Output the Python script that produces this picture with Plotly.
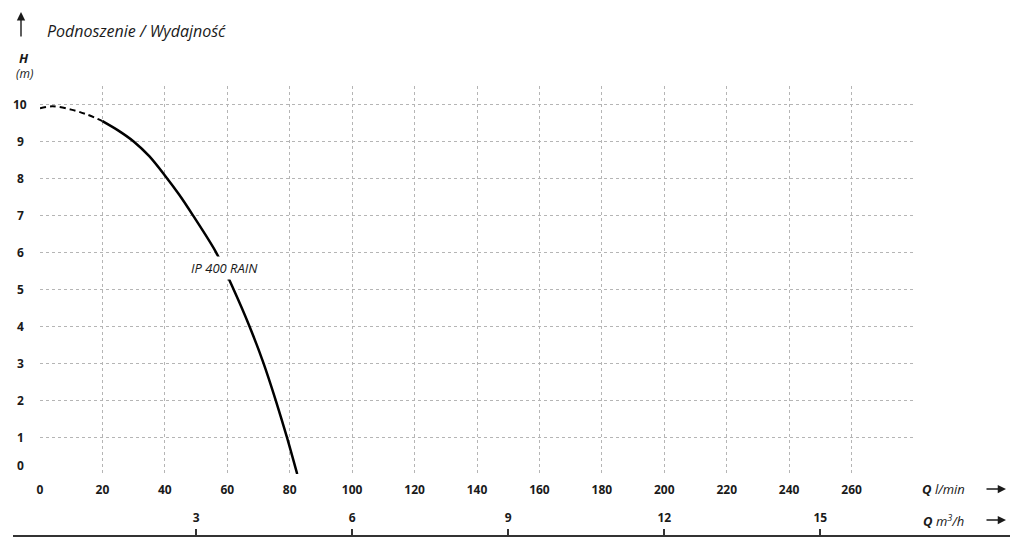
import plotly.graph_objects as go

# ---- data ----
q_dashed = [0, 4, 10, 15, 20]
h_dashed = [9.9, 9.95, 9.86, 9.73, 9.55]
q_solid = [20, 25, 30, 35, 40, 44.5, 49.0, 56.4, 62.0, 67.1, 71.6, 75.5, 79.1, 82.4]
h_solid = [9.55, 9.3, 9.0, 8.6, 8.08, 7.57, 7.0, 6.0, 5.0, 4.0, 3.0, 2.0, 1.0, 0.0]
curve_name = "IP 400 RAIN"

x_ticks = [0, 20, 40, 60, 80, 100, 120, 140, 160, 180, 200, 220, 240, 260, 280]
x_ticktext = ["0", "20", "40", "60", "80", "100", "120", "140", "160", "180", "200", "220", "240", "260", ""]
y_ticks = [0, 1, 2, 3, 4, 5, 6, 7, 8, 9, 10]
m3h_ticks = [3, 6, 9, 12, 15]

# page has an 8px body margin: figure origin sits at page (8, 8)
OFF = 8
W, H = 1024 - OFF, 548 - OFF
ML = 40 - OFF
MT = 86 - OFF
MR = W - (914 - OFF)
MB = 8
PLOT_BOTTOM = 474 - OFF
area_h = H - MT - MB
area_w = W - ML - MR


def px(xp):
    return (xp - OFF - ML) / area_w


def py(yp):
    return (H - MB - (yp - OFF)) / area_h


FONT = "Open Sans"
TXT = "#1a1a1a"

fig = go.Figure()
fig.add_trace(go.Scatter(x=q_dashed, y=h_dashed, mode="lines", line=dict(color="black", width=2, dash="6px,4px", shape="spline"),
                         hoverinfo="skip", showlegend=False))
fig.add_trace(go.Scatter(x=q_solid, y=h_solid, mode="lines", line=dict(color="black", width=2.5, shape="spline", smoothing=0.8),
                         hoverinfo="skip", showlegend=False, name=curve_name))
fig.add_trace(go.Scatter(x=m3h_ticks, y=[None] * len(m3h_ticks), xaxis="x2", mode="markers",
                         hoverinfo="skip", showlegend=False))

grid = dict(showgrid=True, gridcolor="#b5b5b5", gridwidth=1, griddash="dot", zeroline=False, showline=False)

fig.update_layout(
    width=W, height=H,
    margin=dict(l=ML, r=MR, t=MT, b=MB, autoexpand=False),
    paper_bgcolor="white", plot_bgcolor="white",
    font=dict(family=FONT, color=TXT),
    xaxis=dict(range=[0, 280], tickvals=x_ticks, ticktext=x_ticktext, ticks="",
               tickfont=dict(size=12, weight="bold", color=TXT), ticklabelstandoff=7, **grid),
    yaxis=dict(range=[0, 10.5], domain=[(H - MB - PLOT_BOTTOM) / area_h, 1],
               tickvals=y_ticks + [10.5], showticklabels=False, ticks="", **grid),
    xaxis2=dict(overlaying="x", anchor="free", position=py(536), side="top",
                range=[0, 280 * 0.06], tickvals=m3h_ticks, ticks="outside", ticklen=7,
                tickcolor="#333", tickwidth=1.5, showgrid=False, zeroline=False, showline=False,
                ticklabelstandoff=2,
                tickfont=dict(size=12, weight="bold", color=TXT)),
)

# bottom long axis line
fig.add_shape(type="line", xref="paper", yref="paper", x0=px(13), x1=px(1010), y0=py(536), y1=py(536),
              line=dict(color="#333", width=1.8))

# y tick labels (centered)
for v in y_ticks:
    fig.add_annotation(xref="paper", yref="y", x=px(20), y=v, text=str(v), showarrow=False,
                       xanchor="center", yanchor="middle", yshift=9 if v == 0 else 0,
                       font=dict(size=12, weight="bold", color=TXT))

# curve label
fig.add_annotation(x=59, y=5.58, text=curve_name, showarrow=False, bgcolor="white", borderpad=2,
                   font=dict(size=13, style="italic", color=TXT))

# title and axis labels
fig.add_annotation(xref="paper", yref="paper", x=px(45), y=py(31), text="Podnoszenie / Wydajność",
                   showarrow=False, xanchor="left", yanchor="middle",
                   font=dict(size=16, style="italic", color=TXT))
fig.add_annotation(xref="paper", yref="paper", x=px(21), y=py(12), ax=0, ay=26, text="",
                   showarrow=True, arrowhead=2, arrowsize=1.2, arrowwidth=1.4, arrowcolor=TXT, standoff=0)
fig.add_annotation(xref="paper", yref="paper", x=px(24), y=py(58), text="<b>H</b>", showarrow=False,
                   xanchor="center", yanchor="middle", font=dict(size=13, style="italic", color=TXT))
fig.add_annotation(xref="paper", yref="paper", x=px(24), y=py(73), text="(m)", showarrow=False,
                   xanchor="center", yanchor="middle", font=dict(size=12, style="italic", color=TXT))

fig.add_annotation(xref="paper", yref="paper", x=px(967), y=py(489), text="<b>Q</b> l/min", showarrow=False,
                   xanchor="right", yanchor="middle", font=dict(size=13, style="italic", color=TXT))
fig.add_annotation(xref="paper", yref="paper", x=px(966), y=py(520), text="<b>Q</b> m<sup>3</sup>/h", showarrow=False,
                   xanchor="right", yanchor="middle", font=dict(size=13, style="italic", color=TXT))
for yp in (489, 520):
    fig.add_annotation(xref="paper", yref="paper", x=px(1006), y=py(yp), ax=-21, ay=0, text="",
                       showarrow=True, arrowhead=2, arrowsize=1.1, arrowwidth=1.5, arrowcolor=TXT, standoff=0)

fig.write_html("out.html")
